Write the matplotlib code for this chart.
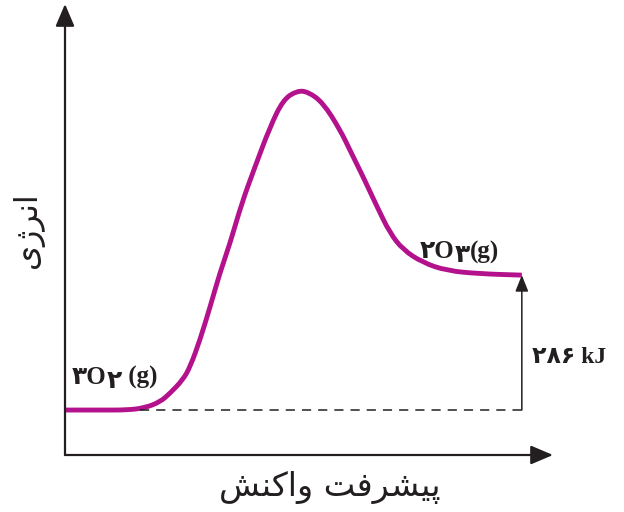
import matplotlib
matplotlib.use("Agg")
import matplotlib.pyplot as plt
import matplotlib.transforms as mtransforms
from matplotlib.path import Path
from matplotlib.patches import PathPatch

# reaction progress (x) and energy (y)
progress = [0, 7.2, 12.9, 16.4, 19.5, 21.6, 24.2, 25.7, 27.7, 29.8, 31.8, 33.9,
            36.3, 39.0, 42.1, 44.8, 47.6, 49.9, 53.0, 56.5, 58.5, 60.2, 61.2,
            64.1, 66.7, 69.4, 73.5, 78.4, 85.2, 93.8]
energy = [10.1, 10.1, 10.1, 10.6, 11.9, 13.9, 16.9, 19.8, 25.8, 33.3, 40.9, 47.6,
          56.6, 64.7, 73.7, 79.8, 81.8, 81.6, 79.1, 73.0, 68.5, 64.7, 62.5,
          55.7, 49.9, 46.1, 43.2, 41.4, 40.7, 40.4]

reactant_level = 10.1
product_level = 40.4
dash_start = 15.4

# Persian labels, written in visual order with Arabic presentation forms
y_label = "\uFBFC\uFB8A\uFEAE\uFEE7\uFE8D"                    # انرژی
x_label = ("\uFEB6\uFEE8\uFB90\uFE8D\uFEED " +
           "\uFE96\uFED3\uFEAE\uFEB8\uFBFF\uFB58")             # پیشرفت واکنش
reactant_parts = [("\u06F3O", 0), ("\u06F2", -3), (" (g)", 0)]  # ۳O۲(g)
product_parts = [("\u06F2O", 0), ("\u06F3", -3), ("(g)", 0)]    # ۲O۳(g)
delta_label = "\u06F2\u06F8\u06F6 kJ"                           # ۲۸۶ kJ

ink = "#231f20"
magenta = "#b3128c"
label_font = ["Liberation Serif", "DejaVu Sans"]


# Draw a label made of several pieces, each one shifted vertically
def rich_label(ax, x, y, parts, size):
    fig = ax.figure
    renderer = fig.canvas.get_renderer()
    shift = 0
    for text, dy in parts:
        tr = mtransforms.offset_copy(ax.transData, fig=fig, x=shift, y=dy, units="points")
        t = ax.text(x, y, text, transform=tr, fontsize=size, fontweight="bold",
                    family=label_font, color=ink, ha="left", va="baseline")
        shift += t.get_window_extent(renderer).width * 72 / fig.dpi


# Smooth path through the points: quadratic curves between midpoints
def smooth_path(xs, ys):
    pts = list(zip(xs, ys))
    verts = [pts[0]]
    codes = [Path.MOVETO]
    for i in range(1, len(pts) - 1):
        mid = ((pts[i][0] + pts[i + 1][0]) / 2, (pts[i][1] + pts[i + 1][1]) / 2)
        verts += [pts[i], mid]
        codes += [Path.CURVE3, Path.CURVE3]
    verts.append(pts[-1])
    codes.append(Path.LINETO)
    return Path(verts, codes)


fig = plt.figure(figsize=(6.24, 5.12), dpi=100)
ax = fig.add_axes([65 / 624, 57 / 512, 488 / 624, 451 / 512])
ax.set_xlim(0, 100.2)
ax.set_ylim(0, 101.3)
ax.axis("off")

# axes with arrow heads
axis_arrow = dict(arrowstyle="-|>,head_length=0.4,head_width=0.17", lw=1.6,
                  color=ink, mutation_scale=34, shrinkA=0, shrinkB=0)
ax.annotate("", xy=(0, 1), xytext=(0, 0), xycoords="axes fraction", arrowprops=axis_arrow)
ax.annotate("", xy=(1, 0), xytext=(0, 0), xycoords="axes fraction", arrowprops=axis_arrow)

# energy curve
ax.add_patch(PathPatch(smooth_path(progress, energy), fill=False, edgecolor=magenta,
                       lw=3.5, capstyle="butt", joinstyle="round"))

# reference level and energy difference
ax.plot([dash_start, progress[-1]], [reactant_level, reactant_level], color=ink,
        lw=1.1, linestyle=(0, (6, 4.6)))
ax.annotate("", xy=(progress[-1], product_level), xytext=(progress[-1], reactant_level),
            arrowprops=dict(arrowstyle="-|>,head_length=0.45,head_width=0.18", lw=1.1,
                            color=ink, mutation_scale=22, shrinkA=0, shrinkB=0))

fig.canvas.draw()
rich_label(ax, 1.4, 16.0, reactant_parts, 18)
rich_label(ax, 72.8, 44.2, product_parts, 18)
ax.text(95.9, 20.6, delta_label, fontsize=17, fontweight="bold", family=label_font,
        color=ink, ha="left", va="baseline")

fig.text(28 / 624, 1 - 230 / 512, y_label, rotation=90, fontsize=23, color=ink,
         family=["DejaVu Sans"], ha="center", va="center")
fig.text(330 / 624, 1 - 488 / 512, x_label, fontsize=24, color=ink,
         family=["DejaVu Sans"], ha="center", va="center")

fig.savefig("out.png", dpi=100)
